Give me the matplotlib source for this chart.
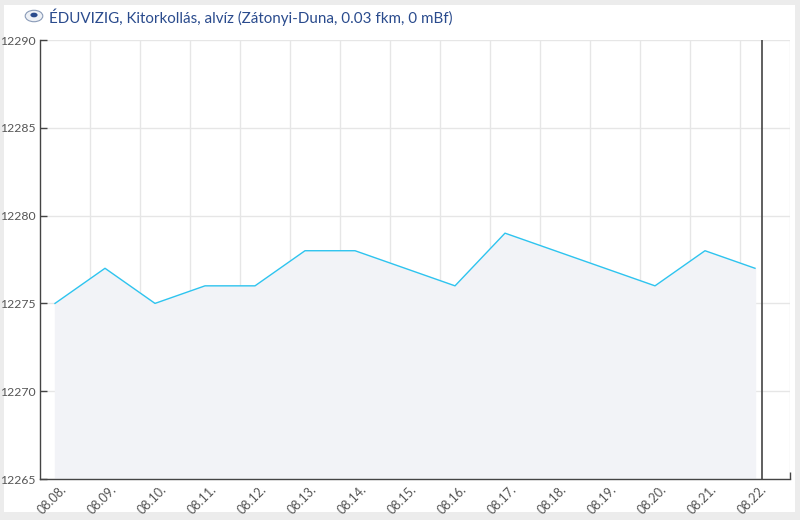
import matplotlib
matplotlib.use('Agg')
import matplotlib.pyplot as plt
from matplotlib.patches import Rectangle, Circle

plt.rcParams['font.family'] = ['Lato', 'DejaVu Sans']

# days after 08.08. 00:00 (readings at about 07:00)
days = [0.3, 1.3, 2.3, 3.3, 4.3, 5.3, 6.3, 8.3, 9.3, 12.3, 13.3, 14.3]
levels = [12275, 12277, 12275, 12276, 12276, 12278, 12278,
          12276, 12279, 12276, 12278, 12277]
day_labels = ['08.08.', '08.09.', '08.10.', '08.11.', '08.12.', '08.13.', '08.14.',
              '08.15.', '08.16.', '08.17.', '08.18.', '08.19.', '08.20.', '08.21.',
              '08.22.']
y_ticks = [12265, 12270, 12275, 12280, 12285, 12290]
now_mark = 14.44
title = 'ÉDUVIZIG, Kitorkollás, alvíz (Zátonyi-Duna, 0.03 fkm, 0 mBf)'

fig = plt.figure(figsize=(8, 5.2), dpi=100, facecolor='#ececec')
fig.patches.append(Rectangle((4 / 800, 1 - 512 / 520), 791 / 800, 507 / 520,
                             transform=fig.transFigure, facecolor='white',
                             edgecolor='none', zorder=-10))

ax = fig.add_axes([40 / 800, 1 - 479 / 520, 750 / 800, 439 / 520])
ax.set_facecolor('white')

ax.fill_between(days, levels, y_ticks[0], color='#f2f3f7', zorder=1)
ax.plot(days, levels, color='#2ec4ef', lw=1, zorder=3)
ax.axvline(now_mark, color='#444444', lw=1.2, zorder=4)

ax.set_xlim(0, 15)
ax.set_ylim(y_ticks[0], y_ticks[-1])

ax.set_xticks([i + 0.4 for i in range(len(day_labels))])
ax.set_xticklabels(day_labels, rotation=45, ha='right', va='top',
                   rotation_mode='anchor', fontsize=9, color='#555555')
ax.set_xticks(list(range(1, 16)), minor=True)
ax.tick_params(axis='x', which='major', length=0, pad=3)
ax.tick_params(axis='x', which='minor', direction='in', length=5,
               color='#444444', width=1)

ax.set_yticks(y_ticks)
ax.set_yticklabels([str(v) for v in y_ticks], fontsize=8.8, color='#555555')
ax.tick_params(axis='y', direction='in', length=5, color='#444444', width=1, pad=3)

ax.grid(True, axis='x', which='minor', color='#e6e6e6', lw=1, zorder=0)
ax.grid(True, axis='y', color='#e6e6e6', lw=1, zorder=0)
ax.set_axisbelow(True)

for s in ['top', 'right']:
    ax.spines[s].set_visible(False)
for s in ['left', 'bottom']:
    ax.spines[s].set_color('#444444')
    ax.spines[s].set_linewidth(1)

# small emblem next to the title
fig.patches.append(Circle((34 / 800, 1 - 16 / 520), 0.011, transform=fig.transFigure,
                          facecolor='#eef1f6', edgecolor='#8a9bb8', lw=0.8))
fig.patches.append(Circle((34 / 800, 1 - 15 / 520), 0.0045, transform=fig.transFigure,
                          facecolor='#2a4b8d', edgecolor='none'))
fig.text(49 / 800, 1 - 17 / 520, title, fontsize=10.9, color='#2a4b8d',
         va='center', ha='left')

plt.savefig('out.png', dpi=100, facecolor=fig.get_facecolor())
